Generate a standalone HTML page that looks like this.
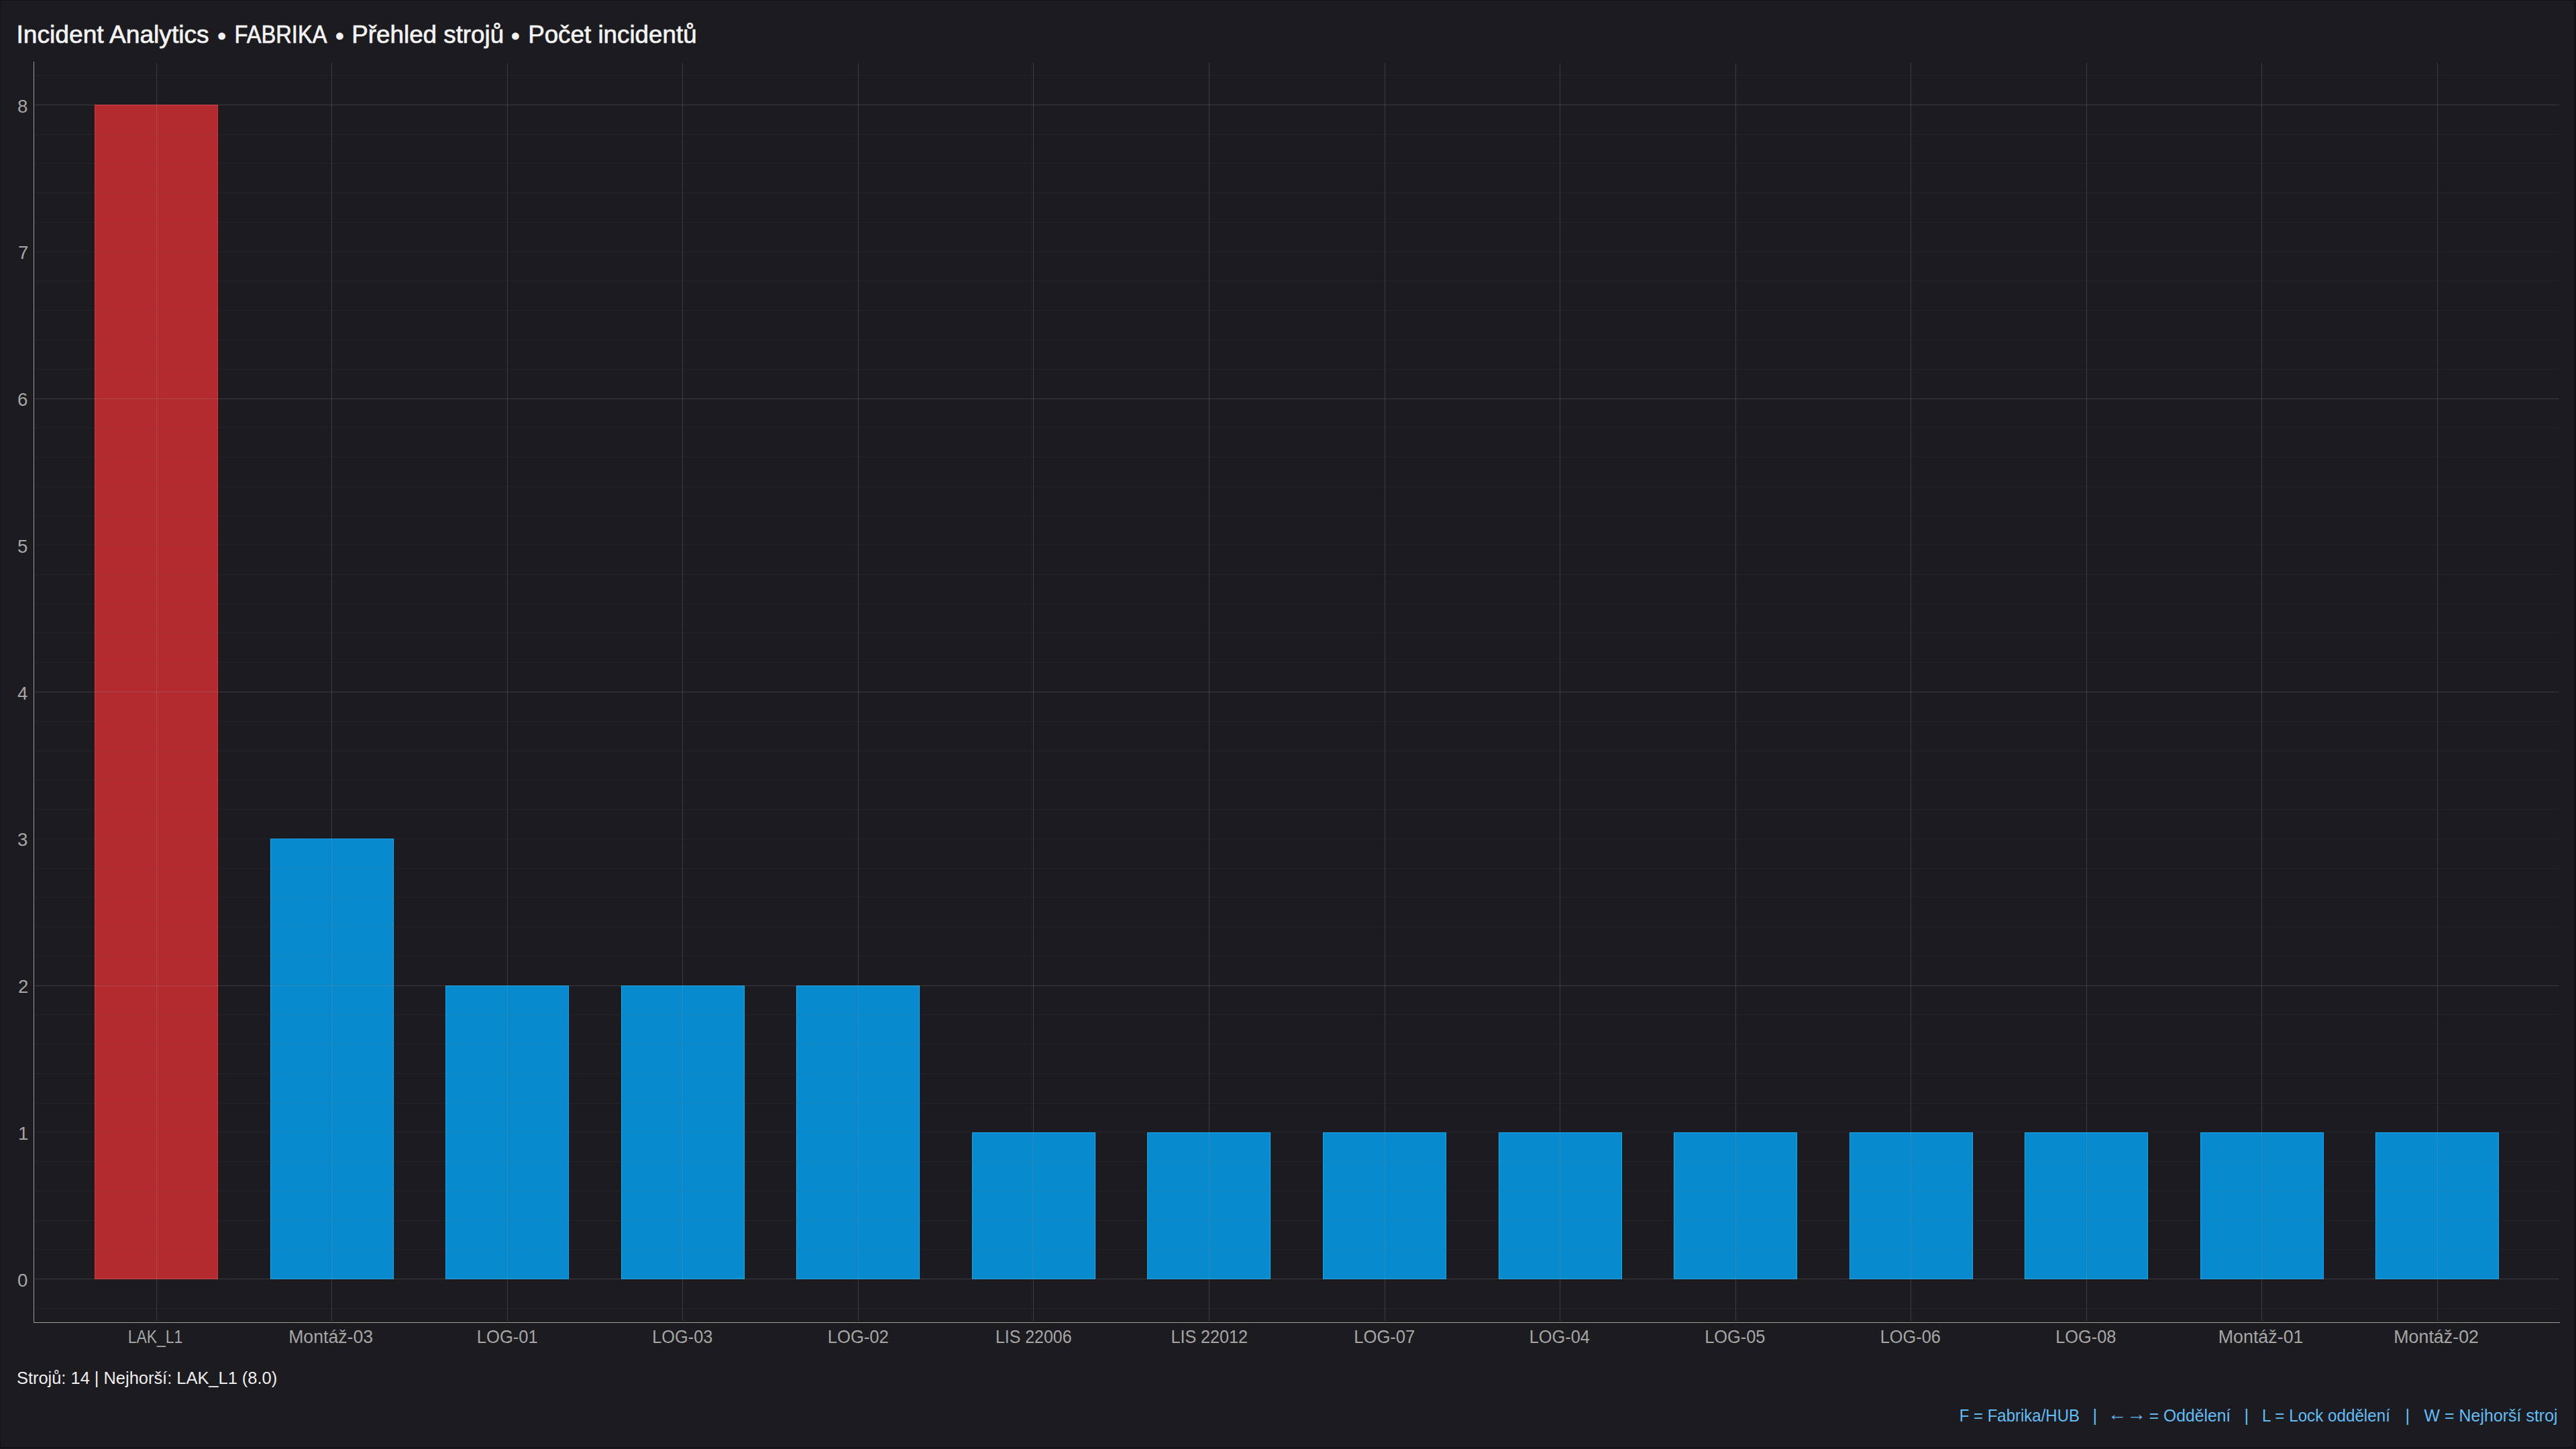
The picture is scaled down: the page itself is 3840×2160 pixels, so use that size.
<!DOCTYPE html>
<html><head><meta charset="utf-8"><title>Incident Analytics</title>
<style>
html,body{margin:0;padding:0;background:#1c1b20;}
body{width:3840px;height:2160px;background:#1c1b20;position:relative;overflow:hidden;font-family:"Liberation Sans",sans-serif;}
svg{position:absolute;left:0;top:0;}
text{font-family:"Liberation Sans",sans-serif;white-space:pre;}
</style></head><body>
<svg width="3840" height="2160" viewBox="0 0 3840 2160">
<rect x="141" y="156" width="184" height="1751" fill="#e23236"/><rect x="142" y="157" width="182" height="1749" fill="#b42b2f"/><rect x="403" y="1250" width="184" height="657" fill="#0eaaf5"/><rect x="404" y="1251" width="182" height="655" fill="#078bce"/><rect x="664" y="1469" width="184" height="438" fill="#0eaaf5"/><rect x="665" y="1470" width="182" height="436" fill="#078bce"/><rect x="926" y="1469" width="184" height="438" fill="#0eaaf5"/><rect x="927" y="1470" width="182" height="436" fill="#078bce"/><rect x="1187" y="1469" width="184" height="438" fill="#0eaaf5"/><rect x="1188" y="1470" width="182" height="436" fill="#078bce"/><rect x="1449" y="1688" width="184" height="219" fill="#0eaaf5"/><rect x="1450" y="1689" width="182" height="217" fill="#078bce"/><rect x="1710" y="1688" width="184" height="219" fill="#0eaaf5"/><rect x="1711" y="1689" width="182" height="217" fill="#078bce"/><rect x="1972" y="1688" width="184" height="219" fill="#0eaaf5"/><rect x="1973" y="1689" width="182" height="217" fill="#078bce"/><rect x="2234" y="1688" width="184" height="219" fill="#0eaaf5"/><rect x="2235" y="1689" width="182" height="217" fill="#078bce"/><rect x="2495" y="1688" width="184" height="219" fill="#0eaaf5"/><rect x="2496" y="1689" width="182" height="217" fill="#078bce"/><rect x="2757" y="1688" width="184" height="219" fill="#0eaaf5"/><rect x="2758" y="1689" width="182" height="217" fill="#078bce"/><rect x="3018" y="1688" width="184" height="219" fill="#0eaaf5"/><rect x="3019" y="1689" width="182" height="217" fill="#078bce"/><rect x="3280" y="1688" width="184" height="219" fill="#0eaaf5"/><rect x="3281" y="1689" width="182" height="217" fill="#078bce"/><rect x="3541" y="1688" width="184" height="219" fill="#0eaaf5"/><rect x="3542" y="1689" width="182" height="217" fill="#078bce"/><rect x="52" y="1950" width="3763" height="1" fill="rgba(93,93,96,0.125)"/><rect x="52" y="1906" width="3763" height="1" fill="rgba(140,140,144,0.28)"/><rect x="52" y="1862" width="3763" height="1" fill="rgba(93,93,96,0.125)"/><rect x="52" y="1819" width="3763" height="1" fill="rgba(93,93,96,0.125)"/><rect x="52" y="1775" width="3763" height="1" fill="rgba(93,93,96,0.125)"/><rect x="52" y="1731" width="3763" height="1" fill="rgba(93,93,96,0.125)"/><rect x="52" y="1687" width="3763" height="1" fill="rgba(93,93,96,0.125)"/><rect x="52" y="1644" width="3763" height="1" fill="rgba(93,93,96,0.125)"/><rect x="52" y="1600" width="3763" height="1" fill="rgba(93,93,96,0.125)"/><rect x="52" y="1556" width="3763" height="1" fill="rgba(93,93,96,0.125)"/><rect x="52" y="1512" width="3763" height="1" fill="rgba(93,93,96,0.125)"/><rect x="52" y="1469" width="3763" height="1" fill="rgba(140,140,144,0.28)"/><rect x="52" y="1425" width="3763" height="1" fill="rgba(93,93,96,0.125)"/><rect x="52" y="1381" width="3763" height="1" fill="rgba(93,93,96,0.125)"/><rect x="52" y="1337" width="3763" height="1" fill="rgba(93,93,96,0.125)"/><rect x="52" y="1294" width="3763" height="1" fill="rgba(93,93,96,0.125)"/><rect x="52" y="1250" width="3763" height="1" fill="rgba(93,93,96,0.125)"/><rect x="52" y="1206" width="3763" height="1" fill="rgba(93,93,96,0.125)"/><rect x="52" y="1162" width="3763" height="1" fill="rgba(93,93,96,0.125)"/><rect x="52" y="1119" width="3763" height="1" fill="rgba(93,93,96,0.125)"/><rect x="52" y="1075" width="3763" height="1" fill="rgba(93,93,96,0.125)"/><rect x="52" y="1031" width="3763" height="1" fill="rgba(140,140,144,0.28)"/><rect x="52" y="987" width="3763" height="1" fill="rgba(93,93,96,0.125)"/><rect x="52" y="943" width="3763" height="1" fill="rgba(93,93,96,0.125)"/><rect x="52" y="900" width="3763" height="1" fill="rgba(93,93,96,0.125)"/><rect x="52" y="856" width="3763" height="1" fill="rgba(93,93,96,0.125)"/><rect x="52" y="812" width="3763" height="1" fill="rgba(93,93,96,0.125)"/><rect x="52" y="769" width="3763" height="1" fill="rgba(93,93,96,0.125)"/><rect x="52" y="725" width="3763" height="1" fill="rgba(93,93,96,0.125)"/><rect x="52" y="681" width="3763" height="1" fill="rgba(93,93,96,0.125)"/><rect x="52" y="637" width="3763" height="1" fill="rgba(93,93,96,0.125)"/><rect x="52" y="594" width="3763" height="1" fill="rgba(140,140,144,0.28)"/><rect x="52" y="550" width="3763" height="1" fill="rgba(93,93,96,0.125)"/><rect x="52" y="506" width="3763" height="1" fill="rgba(93,93,96,0.125)"/><rect x="52" y="462" width="3763" height="1" fill="rgba(93,93,96,0.125)"/><rect x="52" y="418" width="3763" height="1" fill="rgba(93,93,96,0.125)"/><rect x="52" y="375" width="3763" height="1" fill="rgba(93,93,96,0.125)"/><rect x="52" y="331" width="3763" height="1" fill="rgba(93,93,96,0.125)"/><rect x="52" y="287" width="3763" height="1" fill="rgba(93,93,96,0.125)"/><rect x="52" y="243" width="3763" height="1" fill="rgba(93,93,96,0.125)"/><rect x="52" y="200" width="3763" height="1" fill="rgba(93,93,96,0.125)"/><rect x="52" y="156" width="3763" height="1" fill="rgba(140,140,144,0.28)"/><rect x="52" y="112" width="3763" height="1" fill="rgba(93,93,96,0.125)"/><rect x="233" y="94" width="1" height="1875" fill="rgba(140,140,144,0.28)"/><rect x="494" y="94" width="1" height="1875" fill="rgba(140,140,144,0.28)"/><rect x="756" y="94" width="1" height="1875" fill="rgba(140,140,144,0.28)"/><rect x="1017" y="94" width="1" height="1875" fill="rgba(140,140,144,0.28)"/><rect x="1279" y="94" width="1" height="1875" fill="rgba(140,140,144,0.28)"/><rect x="1540" y="94" width="1" height="1875" fill="rgba(140,140,144,0.28)"/><rect x="1802" y="94" width="1" height="1875" fill="rgba(140,140,144,0.28)"/><rect x="2064" y="94" width="1" height="1875" fill="rgba(140,140,144,0.28)"/><rect x="2325" y="94" width="1" height="1875" fill="rgba(140,140,144,0.28)"/><rect x="2587" y="94" width="1" height="1875" fill="rgba(140,140,144,0.28)"/><rect x="2848" y="94" width="1" height="1875" fill="rgba(140,140,144,0.28)"/><rect x="3110" y="94" width="1" height="1875" fill="rgba(140,140,144,0.28)"/><rect x="3371" y="94" width="1" height="1875" fill="rgba(140,140,144,0.28)"/><rect x="3633" y="94" width="1" height="1875" fill="rgba(140,140,144,0.28)"/><rect x="50" y="92" width="1" height="1880" fill="#9b9b9b"/><rect x="0" y="0" width="3840" height="1" fill="#131217"/><rect x="0" y="0" width="1" height="2159" fill="#131217"/><rect x="3837" y="0" width="3" height="2160" fill="#131217"/><rect x="0" y="2157" width="3840" height="2" fill="#131217"/><rect x="50" y="1971" width="3766" height="1" fill="#9b9b9b"/>
<text transform="translate(24.49,64.00) scale(1.0228,1)" font-size="36.34" fill="#f3f3f3" stroke="#f3f3f3" stroke-width="0.7">Incident Analytics</text>
<text transform="translate(349.52,64.00) scale(0.8992,1)" font-size="36.34" fill="#f3f3f3" stroke="#f3f3f3" stroke-width="0.7">FABRIKA</text>
<text transform="translate(524.33,64.00) scale(1.0121,1)" font-size="36.34" fill="#f3f3f3" stroke="#f3f3f3" stroke-width="0.7">Přehled strojů</text>
<text transform="translate(787.13,64.00) scale(1.0126,1)" font-size="36.34" fill="#f3f3f3" stroke="#f3f3f3" stroke-width="0.7">Počet incidentů</text>
<text transform="translate(324.25,65.90)" font-size="36.34" fill="#f3f3f3" stroke="#f3f3f3" stroke-width="0.7">•</text>
<text transform="translate(500.00,65.90)" font-size="36.34" fill="#f3f3f3" stroke="#f3f3f3" stroke-width="0.7">•</text>
<text transform="translate(762.10,65.90)" font-size="36.34" fill="#f3f3f3" stroke="#f3f3f3" stroke-width="0.7">•</text>
<text transform="translate(25.90,1917.60)" font-size="27.62" fill="#a6a6a6">0</text>
<text transform="translate(26.90,1698.85)" font-size="27.62" fill="#a6a6a6">1</text>
<text transform="translate(26.90,1480.10)" font-size="27.62" fill="#a6a6a6">2</text>
<text transform="translate(25.90,1261.35)" font-size="27.62" fill="#a6a6a6">3</text>
<text transform="translate(25.90,1042.60)" font-size="27.62" fill="#a6a6a6">4</text>
<text transform="translate(25.90,823.85)" font-size="27.62" fill="#a6a6a6">5</text>
<text transform="translate(25.90,605.10)" font-size="27.62" fill="#a6a6a6">6</text>
<text transform="translate(26.90,386.35)" font-size="27.62" fill="#a6a6a6">7</text>
<text transform="translate(25.90,167.60)" font-size="27.62" fill="#a6a6a6">8</text>
<text transform="translate(190.74,2002.30) scale(0.8283,1)" font-size="27.62" fill="#a6a6a6">LAK_L1</text>
<text transform="translate(430.17,2002.30) scale(0.9650,1)" font-size="27.62" fill="#a6a6a6">Montáž-03</text>
<text transform="translate(710.74,2002.30) scale(0.9277,1)" font-size="27.62" fill="#a6a6a6">LOG-01</text>
<text transform="translate(972.26,2002.30) scale(0.9181,1)" font-size="27.62" fill="#a6a6a6">LOG-03</text>
<text transform="translate(1233.74,2002.30) scale(0.9277,1)" font-size="27.62" fill="#a6a6a6">LOG-02</text>
<text transform="translate(1483.94,2002.30) scale(0.9026,1)" font-size="27.62" fill="#a6a6a6">LIS 22006</text>
<text transform="translate(1745.43,2002.30) scale(0.9100,1)" font-size="27.62" fill="#a6a6a6">LIS 22012</text>
<text transform="translate(2018.24,2002.30) scale(0.9277,1)" font-size="27.62" fill="#a6a6a6">LOG-07</text>
<text transform="translate(2279.76,2002.30) scale(0.9181,1)" font-size="27.62" fill="#a6a6a6">LOG-04</text>
<text transform="translate(2541.26,2002.30) scale(0.9181,1)" font-size="27.62" fill="#a6a6a6">LOG-05</text>
<text transform="translate(2802.76,2002.30) scale(0.9181,1)" font-size="27.62" fill="#a6a6a6">LOG-06</text>
<text transform="translate(3064.26,2002.30) scale(0.9181,1)" font-size="27.62" fill="#a6a6a6">LOG-08</text>
<text transform="translate(3306.65,2002.30) scale(0.9726,1)" font-size="27.62" fill="#a6a6a6">Montáž-01</text>
<text transform="translate(3568.15,2002.30) scale(0.9726,1)" font-size="27.62" fill="#a6a6a6">Montáž-02</text>
<text transform="translate(24.94,2063.00) scale(0.9616,1)" font-size="26.45" fill="#eeeeee">Strojů: 14 | Nejhorší: LAK_L1 (8.0)</text>
<text transform="translate(2920.64,2118.80) scale(0.9283,1)" font-size="25.87" fill="#62bdf7">F = Fabrika/HUB</text>
<text transform="translate(3203.75,2118.80) scale(0.9547,1)" font-size="25.87" fill="#62bdf7">= Oddělení</text>
<text transform="translate(3372.03,2118.80) scale(0.9357,1)" font-size="25.87" fill="#62bdf7">L = Lock oddělení</text>
<text transform="translate(3613.60,2118.80) scale(0.9650,1)" font-size="25.87" fill="#62bdf7">W = Nejhorší stroj</text>
<text transform="translate(3142.23,2116.50) scale(1.0938,1)" font-size="25.87" fill="#62bdf7">←</text>
<text transform="translate(3170.84,2116.50) scale(1.1125,1)" font-size="25.87" fill="#62bdf7">→</text>
<text transform="translate(3119.50,2118.80)" font-size="25.87" fill="#62bdf7">|</text>
<text transform="translate(3345.40,2118.80)" font-size="25.87" fill="#62bdf7">|</text>
<text transform="translate(3585.50,2118.80)" font-size="25.87" fill="#62bdf7">|</text>
</svg>
</body></html>
